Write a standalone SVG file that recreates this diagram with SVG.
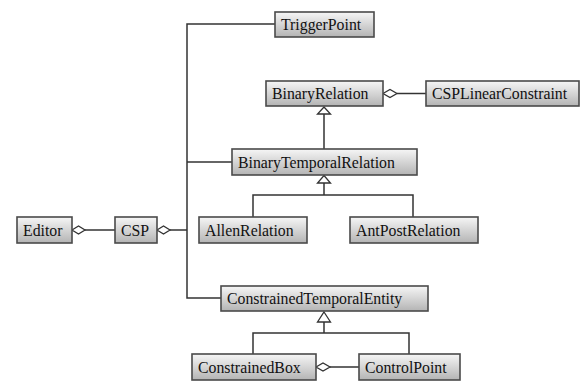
<svg xmlns="http://www.w3.org/2000/svg" width="588" height="385" viewBox="0 0 588 385">
<defs>
<linearGradient id="g" x1="0" y1="0" x2="0" y2="1">
<stop offset="0" stop-color="#f6f6f6"/>
<stop offset="1" stop-color="#b4b4b4"/>
</linearGradient>
<style>
.box{fill:url(#g);stroke:#4a4a4a;stroke-width:1.6}
.sh{fill:none;stroke:#2a2a2a;stroke-width:1.2}
.t{font-family:"Liberation Serif","Times New Roman",serif;font-size:15.8px;fill:#111}
.c{fill:none;stroke:#333;stroke-width:1.5}
.dia{fill:#fff;stroke:#333;stroke-width:1.3}
.tri{fill:#fff;stroke:#333;stroke-width:1.3}
</style>
</defs>
<rect width="588" height="385" fill="#fff"/>
<g id="connectors">
<polyline class="c" points="275,24 187,24 187,298 221,298"/>
<line class="c" x1="187" y1="162" x2="232" y2="162"/>
<line class="c" x1="170" y1="230" x2="187" y2="230"/>
<line class="c" x1="85" y1="230" x2="115" y2="230"/>
<polygon class="dia" points="72,230 78.5,226 85,230 78.5,234"/>
<polygon class="dia" points="157,230 163.5,226 170,230 163.5,234"/>
<line class="c" x1="397" y1="93.5" x2="426" y2="93.5"/>
<polygon class="dia" points="383,93.5 390,89.5 397,93.5 390,97.5"/>
<line class="c" x1="324" y1="114" x2="324" y2="149"/>
<polygon class="tri" points="324,107 330.5,114 317.5,114"/>
<polyline class="c" points="253,217 253,195 413,195 413,217"/>
<line class="c" x1="324" y1="183" x2="324" y2="195"/>
<polygon class="tri" points="324,175.5 330.5,183 317.5,183"/>
<polyline class="c" points="253,354 253,333 409,333 409,354"/>
<line class="c" x1="324" y1="322" x2="324" y2="333"/>
<polygon class="tri" points="324,312 330.5,322 317.5,322"/>
<line class="c" x1="330" y1="367" x2="359" y2="367"/>
<polygon class="dia" points="316,367 323,363 330,367 323,371"/>
</g>
<g id="Editor"><rect class="box" x="17" y="217" width="55" height="26"/><text class="t" x="23" y="236">Editor</text></g>
<g id="CSP"><rect class="box" x="115" y="217" width="42" height="26"/><text class="t" x="121" y="236">CSP</text></g>
<g id="TriggerPoint"><rect class="box" x="275" y="12" width="99" height="25"/><text class="t" x="281" y="30">TriggerPoint</text></g>
<g id="BinaryRelation"><rect class="box" x="266" y="81" width="117" height="25"/><text class="t" x="272" y="99">BinaryRelation</text></g>
<g id="CSPLinearConstraint"><rect class="box" x="426" y="81" width="153" height="25"/><text class="t" x="432" y="99">CSPLinearConstraint</text></g>
<g id="BinaryTemporalRelation"><rect class="box" x="232" y="149" width="185" height="26"/><text class="t" x="238" y="168">BinaryTemporalRelation</text></g>
<g id="AllenRelation"><rect class="box" x="199" y="217" width="108" height="26"/><text class="t" x="205" y="236">AllenRelation</text></g>
<g id="AntPostRelation"><rect class="box" x="350" y="217" width="128" height="26"/><text class="t" x="356" y="236">AntPostRelation</text></g>
<g id="ConstrainedTemporalEntity"><rect class="box" x="221" y="286" width="207" height="25"/><text class="t" x="227" y="304">ConstrainedTemporalEntity</text></g>
<g id="ConstrainedBox"><rect class="box" x="192" y="354" width="124" height="26"/><text class="t" x="198" y="373">ConstrainedBox</text></g>
<g id="ControlPoint"><rect class="box" x="359" y="354" width="101" height="26"/><text class="t" x="365" y="373">ControlPoint</text></g>
</svg>
